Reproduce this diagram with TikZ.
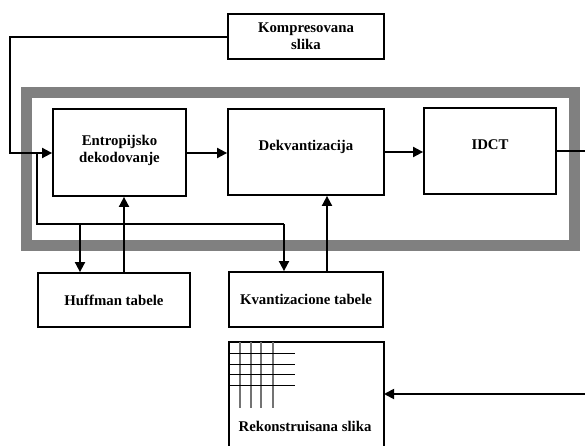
\documentclass[tikz,border=0pt]{standalone}
\usepackage{fontspec}
\setmainfont{Liberation Serif}
\usetikzlibrary{arrows.meta}
\begin{document}
\begin{tikzpicture}[x=1pt,y=-1pt,
  box/.style={draw,line width=1.8pt,minimum width=#1,inner sep=0pt,align=center,
    font=\fontsize{14.8}{17}\selectfont\bfseries},
  conn/.style={line width=1.8pt},
  arr/.style={conn,-{Triangle[length=10pt,width=10pt]}},
  frame/.style={draw=black!50,line width=11pt},
  gridv/.style={draw=black!55,line width=1.2pt},
  gridh/.style={draw=black,line width=1pt}]
\useasboundingbox (0,0) rectangle (585,446);

% decoder frame
\draw[frame] (26.5,92.5) rectangle (574.5,245.5);

% blocks
\node[box=156pt,minimum height=45pt] (komp) at (306,36.5) {Kompresovana\\slika};
\node[box=133pt,minimum height=87pt,text depth=8pt] (ent) at (119.5,152.5) {Entropijsko\\dekodovanje};
\node[box=156pt,minimum height=86pt,text depth=14pt] (dekv) at (306,152) {Dekvantizacija};
\node[box=132pt,minimum height=86pt,text depth=12pt] (idct) at (490,151) {IDCT};
\node[box=152pt,minimum height=54pt] (huff) at (114,300) {Huffman tabele};
\node[box=154pt,minimum height=55pt] (kvant) at (306,299.5) {Kvantizacione tabele};

% reconstructed image with its pixel grid
\draw[line width=1.8pt] (229,452) |- (384,342) -- (384,452);
\foreach \gx in {240,251,261,273} \draw[gridv] (\gx,342) -- (\gx,408);
\foreach \gy in {353,364,374,385} \draw[gridh] (229,\gy) -- (295,\gy);
\node[font=\fontsize{14.8}{17}\selectfont\bfseries] (rek) at (305,426) {Rekonstruisana slika};
\coordinate (rekin) at (384,394);

% connectors
\coordinate (outR) at (590,151);
\coordinate (inR) at (590,394);
\coordinate (split) at (37,153);
\coordinate (busL) at (37,224);
\draw[arr] (komp.west |- 0,37) -| (10,153) -- (ent.west |- 0,153);
\draw[conn] (split) -- (busL) -- (284,224);
\draw[arr] (284,224) -- (284,0 |- kvant.north);
\draw[arr] (80,224) -- (80,0 |- huff.north);
\draw[arr] (124,0 |- huff.north) -- (124,0 |- ent.south);
\draw[arr] (327,0 |- kvant.north) -- (327,0 |- dekv.south);
\draw[arr] (ent.east |- 0,153) -- (dekv.west |- 0,153);
\draw[arr] (dekv.east |- 0,152) -- (idct.west |- 0,152);
\draw[conn] (idct.east |- outR) -- (outR);
\draw[arr] (inR) -- (rekin);
\end{tikzpicture}
\end{document}
